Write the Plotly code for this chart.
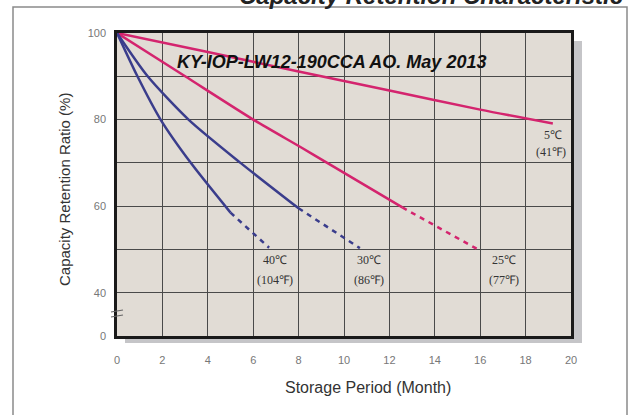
import plotly.graph_objects as go

# ---- data ----
x_ticks = [0, 2, 4, 6, 8, 10, 12, 14, 16, 18, 20]
y_tickvals = [30, 40, 50, 60, 70, 80, 90, 100]          # 30 = broken-axis "0"
y_ticktext = ["0", "40", "", "60", "", "80", "", "100"]

m5 = [0, 4, 8, 12, 16, 19.2]
c5 = [100, 95.6, 91.1, 86.7, 82.3, 79.1]

m25 = [0, 3, 6, 8.1, 9.26, 12.57]
c25 = [100, 90, 80, 73.6, 70, 59.7]
m25d = [12.57, 15.9]
c25d = [59.7, 50]

m30 = [0, 1.35, 3.15, 5.44, 8.0]
c30 = [100, 90, 80, 70, 59.5]
m30d = [8.0, 10.7]
c30d = [59.5, 50.3]

m40 = [0, 0.9, 1.92, 3.25, 5.0]
c40 = [100, 90, 80, 70, 58.5]
m40d = [5.0, 6.7]
c40d = [58.5, 50.4]

labels = [
    ("40℃", "(104℉)", 6.98),
    ("30℃", "(86℉)", 11.08),
    ("25℃", "(77℉)", 17.04),
]

PINK = "#d4246e"
NAVY = "#3a3d8c"

fig = go.Figure()

def add(x, y, color, dash=None, spline=True):
    fig.add_trace(go.Scatter(
        x=x, y=y, mode="lines",
        line=dict(color=color, width=2.5, dash=dash or "solid",
                  shape="spline" if spline else "linear", smoothing=0.7),
        showlegend=False, hoverinfo="skip", cliponaxis=False))

add(m5, c5, PINK)
add(m25, c25, PINK)
add(m25d, c25d, PINK, dash="5px,5px", spline=False)
add(m30, c30, NAVY)
add(m30d, c30d, NAVY, dash="5px,5px", spline=False)
add(m40, c40, NAVY)
add(m40d, c40d, NAVY, dash="5px,5px", spline=False)

W, H = 632, 415
L, R, T, B = 117, 61, 33, 79
pw, ph = W - L - R, H - T - B

def px(xp):
    return (xp - L) / pw

def py(yp):
    return (H - B - yp) / ph

shapes = [
    # outer frame
    dict(type="rect", xref="paper", yref="paper", x0=px(13), x1=px(627),
         y0=py(430), y1=py(7), line=dict(color="#8a8a8a", width=1.5),
         fillcolor="rgba(0,0,0,0)", layer="below"),
    # drop shadow
    dict(type="rect", xref="paper", yref="paper", x0=px(125), x1=px(582),
         y0=py(343), y1=py(41), line=dict(width=0), fillcolor="#c5c5c8",
         layer="below"),
    # plot background
    dict(type="rect", xref="paper", yref="paper", x0=0, x1=1, y0=0, y1=1,
         line=dict(width=0), fillcolor="#e1dcd5", layer="below"),
    # axis break marks
    dict(type="line", xref="paper", yref="paper", x0=px(111), x1=px(123),
         y0=py(312), y1=py(310), line=dict(color="#666", width=1.2)),
    dict(type="line", xref="paper", yref="paper", x0=px(111), x1=px(123),
         y0=py(317), y1=py(315), line=dict(color="#666", width=1.2)),
]

ann = []
lab_font = dict(family="Liberation Serif, Times New Roman, serif", size=12, color="#333")
for t1, t2, xx in labels:
    ann.append(dict(x=xx, y=47.6, xref="x", yref="y", text=t1, showarrow=False,
                    font=lab_font, xanchor="center", yanchor="middle"))
    ann.append(dict(x=xx, y=42.9, xref="x", yref="y", text=t2, showarrow=False,
                    font=lab_font, xanchor="center", yanchor="middle"))
ann.append(dict(x=19.2, y=76.4, xref="x", yref="y", text="5℃", showarrow=False,
                font=lab_font, xanchor="center", yanchor="middle"))
ann.append(dict(x=19.1, y=72.5, xref="x", yref="y", text="(41℉)", showarrow=False,
                font=lab_font, xanchor="center", yanchor="middle"))

ann.append(dict(x=px(331), y=py(62), xref="paper", yref="paper",
                xanchor="center", yanchor="middle",
                text="<b><i>KY-IOP-LW12-190CCA AO. May 2013</i></b>", showarrow=False,
                font=dict(family="Liberation Sans, Arial, sans-serif", size=18, color="#111")))
ann.append(dict(x=px(625), y=py(-4), xref="paper", yref="paper",
                xanchor="right", yanchor="middle",
                text="<b><i>Capacity Retention Characteristic</i></b>", showarrow=False,
                font=dict(family="Liberation Sans, Arial, sans-serif", size=24, color="#222")))
ann.append(dict(x=px(65), y=py(190), xref="paper", yref="paper", textangle=-90,
                xanchor="center", yanchor="middle",
                text="Capacity Retention Ratio (%)", showarrow=False,
                font=dict(family="Liberation Sans, Arial, sans-serif", size=15, color="#333")))
ann.append(dict(x=px(368), y=py(387), xref="paper", yref="paper",
                xanchor="center", yanchor="middle",
                text="Storage Period (Month)", showarrow=False,
                font=dict(family="Liberation Sans, Arial, sans-serif", size=16, color="#333")))

tick_font = dict(family="Liberation Sans, Arial, sans-serif", size=11, color="#777")

fig.update_layout(
    width=W, height=H,
    margin=dict(l=L, r=R, t=T, b=B, pad=0),
    paper_bgcolor="white", plot_bgcolor="rgba(0,0,0,0)",
    shapes=shapes, annotations=ann,
    xaxis=dict(range=[0, 20], tickvals=x_ticks, showgrid=True,
               gridcolor="#4a4a4a", gridwidth=1.2, showline=True, mirror=True,
               linecolor="#1a1a1a", linewidth=2.5, zeroline=False,
               ticks="", ticklabelstandoff=12, tickfont=tick_font, fixedrange=True),
    yaxis=dict(range=[30, 100], tickvals=y_tickvals, ticktext=y_ticktext,
               showgrid=True, gridcolor="#4a4a4a", gridwidth=1.2, showline=True,
               mirror=True, linecolor="#1a1a1a", linewidth=2.5, zeroline=False,
               ticks="", ticklabelstandoff=6, tickfont=tick_font, fixedrange=True),
)

fig.write_html("out.html", config={"displayModeBar": False},
               post_script="document.body.style.margin='0';")
